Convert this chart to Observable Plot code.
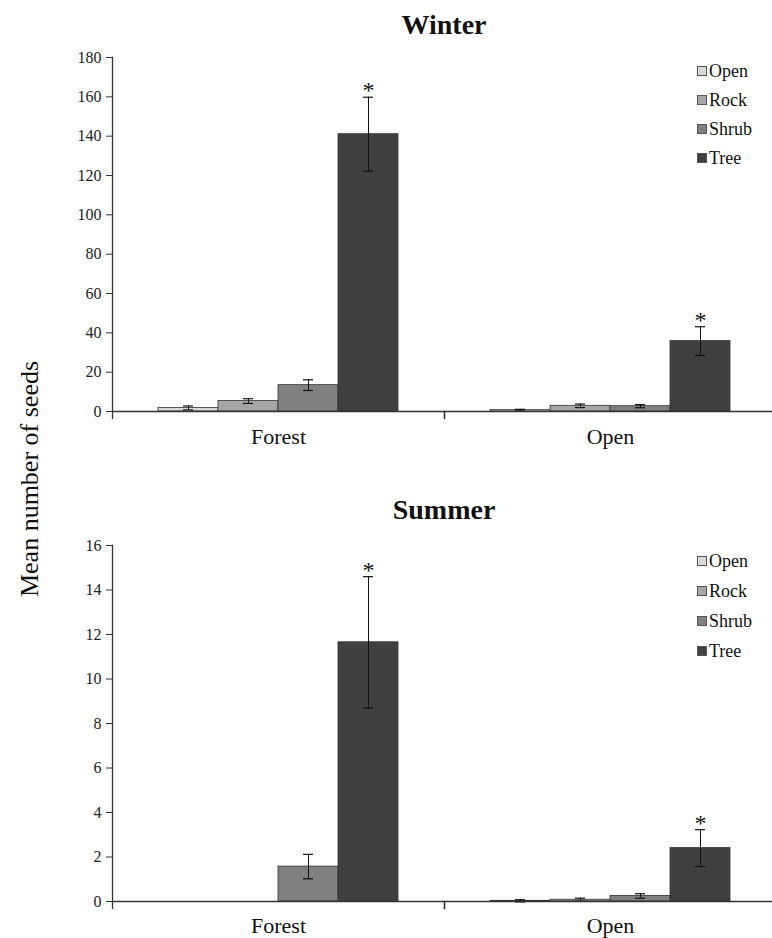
<!DOCTYPE html>
<html>
<head>
<meta charset="utf-8">
<script src="https://cdn.jsdelivr.net/npm/d3@7"></script>
<script src="https://cdn.jsdelivr.net/npm/@observablehq/plot@0.6"></script>
<style>
  body { margin: 0; background: #fff; font-family: "Liberation Serif", "Times New Roman", serif; color: #111; }
  #root { position: relative; width: 772px; height: 938px; overflow: hidden; background: #fff; }
  .title { position: absolute; left: 112px; width: 664px; text-align: center; font-weight: bold; font-size: 28px; line-height: 28px; font-family: "Liberation Serif", serif; }
  .ylab { position: absolute; font-size: 26px; line-height: 26px; white-space: nowrap; transform: translate(-50%, -50%) rotate(-90deg); font-family: "Liberation Serif", serif; }
  .legend { position: absolute; left: 697px; font-size: 18px; font-family: "Liberation Serif", serif; }
  .legend .item { position: absolute; left: 0; height: 20px; line-height: 20px; display: flex; align-items: center; white-space: nowrap; }
  .legend .sw { width: 8px; height: 8px; border: 1px solid #555; margin-right: 2px; }
  .chart { position: absolute; left: 0; }
  svg.chart, svg.chart text, svg.chart g { font-family: "Liberation Serif", serif !important; }
</style>
</head>
<body>
<div id="root"></div>
<script>
// ---- data ----
const sites = ["Forest", "Open"];
const habitats = ["Open", "Rock", "Shrub", "Tree"];
const habitatColors = ["#d9d9d9", "#a6a6a6", "#808080", "#404040"];

const winterForestMean = [1.8, 5.3, 13.4, 141.0];
const winterForestSE   = [1.0, 1.2, 2.7, 18.8];
const winterOpenMean   = [0.7, 2.9, 2.7, 35.8];
const winterOpenSE     = [0.4, 0.9, 0.8, 7.3];
const winterSig        = ["", "", "", "*"];

const summerForestMean = [0, 0, 1.57, 11.65];
const summerForestSE   = [0, 0, 0.55, 2.95];
const summerOpenMean   = [0.03, 0.08, 0.25, 2.4];
const summerOpenSE     = [0.05, 0.07, 0.1, 0.83];
const summerSig        = ["", "", "", "*"];

const winterTicks = [0, 20, 40, 60, 80, 100, 120, 140, 160, 180];
const summerTicks = [0, 2, 4, 6, 8, 10, 12, 14, 16];

function buildRows(forestMean, forestSE, openMean, openSE, sig) {
  const rows = [];
  habitats.forEach((h, i) => rows.push({site: "Forest", habitat: h, mean: forestMean[i], se: forestSE[i], sig: sig[i]}));
  habitats.forEach((h, i) => rows.push({site: "Open", habitat: h, mean: openMean[i], se: openSE[i], sig: sig[i]}));
  return rows;
}
const winterRows = buildRows(winterForestMean, winterForestSE, winterOpenMean, winterOpenSE, winterSig);
const summerRows = buildRows(summerForestMean, summerForestSE, summerOpenMean, summerOpenSE, summerSig);

function seasonChart(rows, yTicks, o) {
  const innerH = o.height - o.marginTop - o.marginBottom;
  const shown = rows.filter(d => d.mean > 0);
  const capInset = 25;
  return Plot.plot({
    width: 772,
    height: o.height,
    marginLeft: 112,
    marginRight: -4,
    marginTop: o.marginTop,
    marginBottom: o.marginBottom,
    style: {fontFamily: "'Liberation Serif', serif", fontSize: "16px", color: "#222", background: "transparent", overflow: "visible"},
    fx: {domain: sites, padding: 0, label: null},
    x: {domain: habitats, paddingInner: 0, paddingOuter: 0.75, axis: null},
    y: {domain: [yTicks[0], yTicks[yTicks.length - 1]], label: null},
    color: {domain: habitats, range: habitatColors},
    marks: [
      Plot.barY(shown, {fx: "site", x: "habitat", y: "mean", fill: "habitat", stroke: "#333", strokeWidth: 0.8}),
      Plot.ruleX(shown, {fx: "site", x: "habitat", y1: d => d.mean - d.se, y2: d => d.mean + d.se, stroke: "#111", strokeWidth: 1}),
      Plot.tickY(shown, {fx: "site", x: "habitat", y: d => d.mean - d.se, stroke: "#111", strokeWidth: 1.2, insetLeft: capInset, insetRight: capInset}),
      Plot.tickY(shown, {fx: "site", x: "habitat", y: d => d.mean + d.se, stroke: "#111", strokeWidth: 1.2, insetLeft: capInset, insetRight: capInset}),
      Plot.text(rows.filter(d => d.sig), {fx: "site", x: "habitat", y: d => d.mean + d.se, text: "sig", lineAnchor: "bottom", dy: 1, fontSize: 24, fill: "#111"}),
      Plot.ruleY([0], {stroke: "#333", strokeWidth: 1.5}),
      Plot.frame({anchor: "left", insetTop: innerH, insetBottom: -7, stroke: "#333", strokeWidth: 1.3}),
      Plot.frame({anchor: "right", insetTop: innerH, insetBottom: -7, stroke: "#333", strokeWidth: 1.3}),
      Plot.frame({anchor: "left", facet: "super", stroke: "#333", strokeWidth: 1.3}),
      Plot.axisY({ticks: yTicks, tickSize: 6, tickPadding: 5, fontSize: 16, label: null, stroke: "#333", fill: "#222"}),
      Plot.axisFx({anchor: "bottom", tickSize: 0, tickPadding: o.labelPad, fontSize: 22, label: null, fill: "#111"})
    ]
  });
}

const root = document.getElementById("root");

function addTitle(text, centerY) {
  const t = document.createElement("div");
  t.className = "title";
  t.textContent = text;
  t.style.top = (centerY - 14) + "px";
  root.appendChild(t);
}

function addLegend(centers) {
  const lg = document.createElement("div");
  lg.className = "legend";
  lg.style.top = "0px";
  habitats.forEach((h, i) => {
    const it = document.createElement("div");
    it.className = "item";
    it.style.top = (centers[i] - 10) + "px";
    const sw = document.createElement("span");
    sw.className = "sw";
    sw.style.background = habitatColors[i];
    const lab = document.createElement("span");
    lab.textContent = h;
    it.appendChild(sw);
    it.appendChild(lab);
    lg.appendChild(it);
  });
  root.appendChild(lg);
}

// Winter
const w = seasonChart(winterRows, winterTicks, {height: 460, marginTop: 57, marginBottom: 49, labelPad: 17});
w.classList.add("chart");
w.style.top = "0px";
root.appendChild(w);

// Summer
const s = seasonChart(summerRows, summerTicks, {height: 468, marginTop: 75, marginBottom: 37, labelPad: 16});
s.classList.add("chart");
s.style.top = "470px";
root.appendChild(s);

addTitle("Winter", 25);
addTitle("Summer", 510);
addLegend([71, 100, 129, 158]);
addLegend([561, 591, 621, 651]);

const yl = document.createElement("div");
yl.className = "ylab";
yl.textContent = "Mean number of seeds";
yl.style.left = "30px";
yl.style.top = "479px";
root.appendChild(yl);
</script>
</body>
</html>
